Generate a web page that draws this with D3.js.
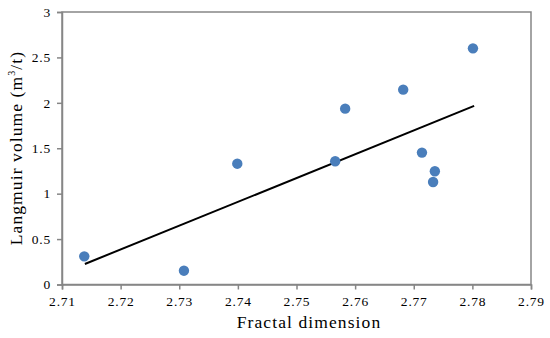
<!DOCTYPE html>
<html><head><meta charset="utf-8">
<script src="https://cdn.jsdelivr.net/npm/d3@7/dist/d3.min.js"></script>
<style>body{margin:0;background:#fff}svg{display:block}</style>
</head><body><svg id="c" width="550" height="338"></svg>
<script>
const fractalDim = [2.7138, 2.7308, 2.7399, 2.7566, 2.7583, 2.7682, 2.7714, 2.7736, 2.7733, 2.7801];
const langmuirVol = [0.31, 0.152, 1.33, 1.357, 1.936, 2.145, 1.452, 1.247, 1.129, 2.60];
const trendX = [2.7139, 2.7803];
const trendY = [0.226, 1.966];
const xTicks = [2.71, 2.72, 2.73, 2.74, 2.75, 2.76, 2.77, 2.78, 2.79];
const yTicks = [0, 0.5, 1, 1.5, 2, 2.5, 3];

const FONT = '"Liberation Serif"';
const svg = d3.select("#c");
const L = 62, R = 531, T = 12, B = 284.5;
const x = d3.scaleLinear().domain([2.71, 2.79]).range([L, R]);
const y = d3.scaleLinear().domain([0, 3]).range([B, T]);
const axisCol = "#868686";

svg.append("rect").attr("x", L).attr("y", T).attr("width", R - L).attr("height", B - T)
  .attr("fill", "none").attr("stroke", axisCol).attr("stroke-width", 1.5);

const xa = svg.append("g").attr("transform", `translate(0,${B})`)
  .call(d3.axisBottom(x).tickValues(xTicks).tickSize(5).tickPadding(7).tickFormat(d3.format(".2f")));
const ya = svg.append("g").attr("transform", `translate(${L},0)`)
  .call(d3.axisLeft(y).tickValues(yTicks).tickSize(5).tickPadding(6).tickFormat(d => String(d)));
[xa, ya].forEach(g => {
  g.attr("font-family", null).attr("font-size", null);
  g.select(".domain").attr("stroke", axisCol).attr("stroke-width", 1.5);
  g.selectAll(".tick line").attr("stroke", axisCol).attr("stroke-width", 1.5);
  g.selectAll(".tick text").style("font-family", FONT).style("font-size", "13.5px")
    .style("letter-spacing", "0.8px").attr("fill", "#000");
});

svg.append("line").attr("x1", x(trendX[0])).attr("y1", y(trendY[0]))
  .attr("x2", x(trendX[1])).attr("y2", y(trendY[1]))
  .attr("stroke", "#000").attr("stroke-width", 2);

svg.append("g").selectAll("circle").data(fractalDim.map((d, i) => [d, langmuirVol[i]]))
  .join("circle").attr("cx", d => x(d[0])).attr("cy", d => y(d[1])).attr("r", 5.2)
  .attr("fill", "#4a7ebb");

svg.append("text").attr("x", 309).attr("y", 328).attr("text-anchor", "middle")
  .style("font-family", FONT).style("font-size", "17.5px").style("letter-spacing", "1.1px")
  .text("Fractal dimension");

const yt = svg.append("text").attr("transform", "translate(22,148) rotate(-90)")
  .attr("text-anchor", "middle").style("font-family", FONT).style("font-size", "17.5px")
  .style("letter-spacing", "1.1px");
yt.append("tspan").text("Langmuir volume (m");
yt.append("tspan").style("font-size", "10px").attr("dy", -7).text("3");
yt.append("tspan").attr("dy", 7).text("/t)");
</script></body></html>
